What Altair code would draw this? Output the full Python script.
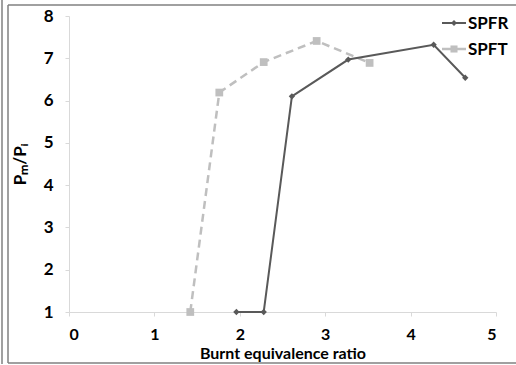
import altair as alt
import pandas as pd

series_names = ["SPFR", "SPFT"]

spfr_x = [1.96, 2.28, 2.61, 3.27, 4.27, 4.64]
spfr_y = [1.0, 1.0, 6.1, 6.97, 7.32, 6.54]

spft_x = [1.42, 1.76, 2.28, 2.90, 3.52]
spft_y = [1.0, 6.19, 6.91, 7.41, 6.89]

x_ticks = [0, 1, 2, 3, 4, 5]
y_ticks = [1, 2, 3, 4, 5, 6, 7, 8]

FONT = "Lato"
DARK = "#595959"
LIGHT = "#bfbfbf"

df_r = pd.DataFrame({"x": spfr_x, "y": spfr_y, "s": series_names[0]})
df_t = pd.DataFrame({"x": spft_x, "y": spft_y, "s": series_names[1]})

xs = alt.Scale(domain=[0, 5], nice=False, zero=False)
ys = alt.Scale(domain=[1, 8], nice=False, zero=False)

x_enc = alt.X("x:Q", scale=xs, title="Burnt equivalence ratio",
              axis=alt.Axis(values=x_ticks, format="d", grid=False,
                            domainColor="#d9d9d9", tickColor="#d9d9d9",
                            tickSize=4, labelPadding=10, titlePadding=3,
                            labelFont=FONT, labelFontSize=16, labelFontWeight="bold",
                            labelColor="#000000", titleFont=FONT, titleFontSize=16,
                            titleFontWeight="bold", titleColor="#000000"))
y_enc = alt.Y("y:Q", scale=ys, title="Pₘ/Pᵢ",
              axis=alt.Axis(values=y_ticks, format="d", grid=False,
                            domainColor="#d9d9d9", tickColor="#d9d9d9",
                            tickSize=4, labelPadding=12, titlePadding=14,
                            labelFont=FONT, labelFontSize=17, labelFontWeight="bold",
                            labelColor="#000000", titleFont=FONT, titleFontSize=17,
                            titleFontWeight="bold", titleColor="#000000"))

line_t = alt.Chart(df_t).mark_line(color=LIGHT, strokeWidth=2.5, strokeDash=[8, 5]).encode(x=x_enc, y=y_enc)
pts_t = alt.Chart(df_t).mark_point(shape="square", filled=True, color=LIGHT, size=60, opacity=1).encode(x="x:Q", y="y:Q")
line_r = alt.Chart(df_r).mark_line(color=DARK, strokeWidth=2).encode(x="x:Q", y="y:Q")
pts_r = alt.Chart(df_r).mark_point(shape="diamond", filled=True, color=DARK, size=40, opacity=1).encode(x="x:Q", y="y:Q")

# custom legend (line + marker + label)
leg_df = pd.DataFrame({"s": series_names})
leg = []
for name, color, shape, size, yy, sw in [
    (series_names[0], DARK, "diamond", 35, 7, 2),
    (series_names[1], LIGHT, "square", 50, 33, 2.5),
]:
    d = leg_df[leg_df["s"] == name]
    leg.append(alt.Chart(d).mark_rule(color=color, strokeWidth=sw).encode(
        x=alt.value(373), x2=alt.value(397), y=alt.value(yy)))
    leg.append(alt.Chart(d).mark_point(shape=shape, filled=True, color=color, size=size, opacity=1).encode(
        x=alt.value(385), y=alt.value(yy)))
    leg.append(alt.Chart(d).mark_text(align="left", baseline="middle", font=FONT, fontSize=17,
                                      fontWeight="bold", color="#000000").encode(
        x=alt.value(399), y=alt.value(yy + 1), text="s:N"))

# outer frame decorations
frame_df = pd.DataFrame({"k": [0]})
fc = "#808080"
frame = [
    alt.Chart(frame_df).mark_rule(color=fc, strokeWidth=1.5).encode(x=alt.value(-61), x2=alt.value(460), y=alt.value(-11)),
    alt.Chart(frame_df).mark_rule(color=fc, strokeWidth=1.5).encode(x=alt.value(-61), x2=alt.value(460), y=alt.value(347)),
    alt.Chart(frame_df).mark_rule(color=fc, strokeWidth=1.5).encode(x=alt.value(-61), y=alt.value(-11), y2=alt.value(347)),
    alt.Chart(frame_df).mark_rule(color=fc, strokeWidth=1.5).encode(x=alt.value(-67), y=alt.value(-16), y2=alt.value(348)),
]

chart = alt.layer(line_t, pts_t, line_r, pts_r, *leg, *frame).properties(
    width=427, height=296,
    autosize=alt.AutoSizeParams(type="none"),
    padding={"left": 69, "top": 16, "right": 20, "bottom": 53},
    background="white",
).configure_view(stroke=None)

chart.save("out.html", embed_options={"renderer": "svg", "actions": False})
